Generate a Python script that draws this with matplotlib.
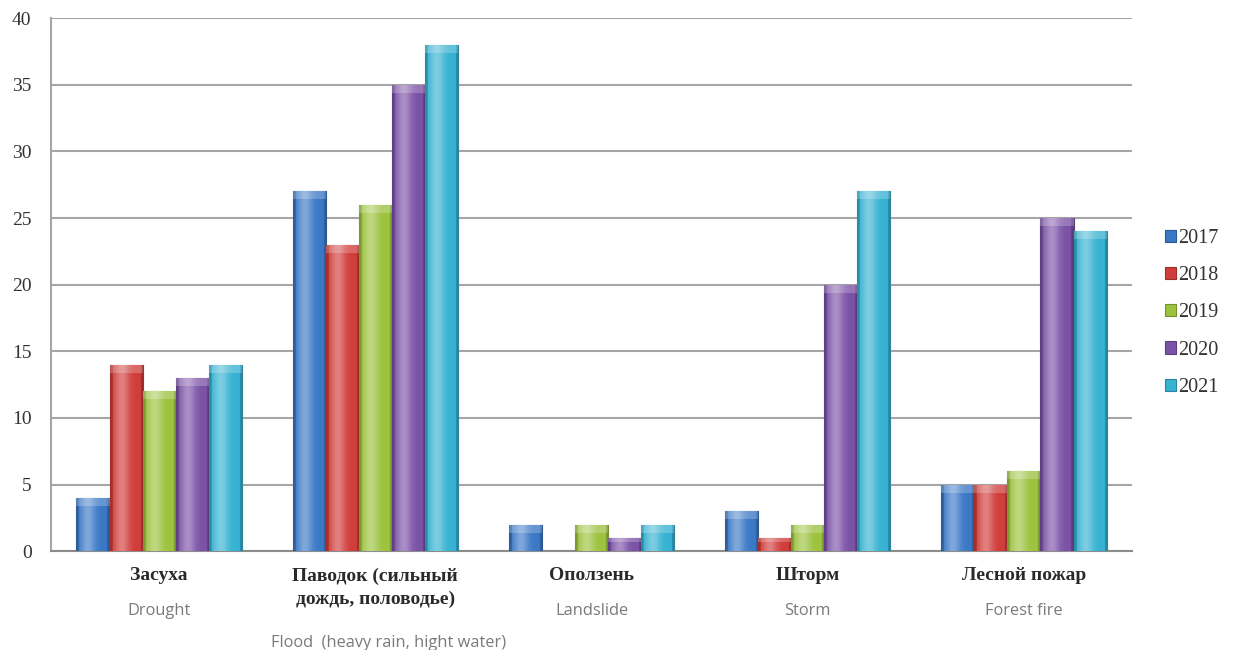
import numpy as np
import matplotlib.pyplot as plt
from matplotlib.colors import to_rgb

# hazard events per year
years = ['2017', '2018', '2019', '2020', '2021']
categories_ru = ['Засуха', 'Паводок (сильный\nдождь, половодье)', 'Оползень', 'Шторм', 'Лесной пожар']
categories_en = ['Drought', 'Flood  (heavy rain, hight water)', 'Landslide', 'Storm', 'Forest fire']

v2017 = [4, 27, 2, 3, 5]
v2018 = [14, 23, 0, 1, 5]
v2019 = [12, 26, 2, 2, 6]
v2020 = [13, 35, 1, 20, 25]
v2021 = [14, 38, 2, 27, 24]
series = [v2017, v2018, v2019, v2020, v2021]

colors = ['#3a78c6', '#d03d3a', '#9cc23e', '#7b52a6', '#36b2d2']

fig = plt.figure(figsize=(12.33, 6.5), dpi=100)
ax = fig.add_axes([0.0414, 0.152, 0.8767, 0.82])

x = np.arange(len(categories_en))
bw = 0.153


def shade(bar, base):
    # horizontal highlight + darker rim, like a bevelled bar
    x0, y0 = bar.get_x(), bar.get_y()
    w, h = bar.get_width(), bar.get_height()
    if h <= 0:
        return
    t = np.linspace(0, 1, 60)
    prof = 0.35 * np.exp(-((t - 0.35) / 0.22) ** 2) - 0.25 * (np.abs(t - 0.5) > 0.42)
    rgb = np.array(to_rgb(base))
    img = np.zeros((1, len(t), 3))
    for i, p in enumerate(prof):
        if p >= 0:
            img[0, i] = rgb + (1 - rgb) * p
        else:
            img[0, i] = rgb * (1 + p)
    im = ax.imshow(img, extent=[x0, x0 + w, y0, y0 + h], aspect='auto',
                   interpolation='bilinear', zorder=3)
    im.set_clip_path(bar)
    # top cap
    cap = min(0.6, h * 0.3)
    ax.fill_between([x0, x0 + w], y0 + h - cap, y0 + h, color='white', alpha=0.22,
                    lw=0, zorder=4, clip_path=bar)


for i, (vals, c, yr) in enumerate(zip(series, colors, years)):
    bars = ax.bar(x + (i - 2) * bw, vals, bw, color=c, label=yr, zorder=2,
                  edgecolor=tuple(np.array(to_rgb(c)) * 0.75), linewidth=0.8)
    for b in bars:
        shade(b, c)

ax.set_xlim(-0.5, 4.5)
ax.set_ylim(0, 40)
ax.set_yticks(range(0, 41, 5))
ax.yaxis.grid(True, color='#a6a6a6', lw=1.5, zorder=0)
ax.set_axisbelow(True)
for s in ['top', 'right']:
    ax.spines[s].set_visible(False)
ax.spines['left'].set_color('#a6a6a6')
ax.spines['left'].set_linewidth(1.5)
ax.spines['bottom'].set_color('#8c8c8c')
ax.spines['bottom'].set_linewidth(1.5)
ax.tick_params(axis='y', length=0, pad=14, labelsize=14, labelcolor='#333333')
ax.tick_params(axis='x', length=0)
for lab in ax.get_yticklabels():
    lab.set_fontfamily('Liberation Serif')
ax.set_xticks([])

# category labels: russian (serif) and english (grey sans)
for i in range(len(x)):
    ax.text(x[i], -1.2, categories_ru[i], ha='center', va='top', fontsize=14,
            family='Liberation Serif', fontweight='bold', color='#2a2a2a',
            linespacing=1.45)
    two_lines = '\n' in categories_ru[i]
    y_en = -6.3 if two_lines else -3.9
    x_en = x[i] + (0.06 if two_lines else 0)
    ax.text(x_en, y_en, categories_en[i], ha='center', va='top', fontsize=11.8,
            family='Open Sans', color='#7a7a7a')

leg = ax.legend(loc='center left', bbox_to_anchor=(1.014, 0.447), frameon=False,
                prop={'family': 'Liberation Serif', 'size': 14.5},
                handlelength=0.55, handleheight=0.55, handletextpad=0.1,
                labelspacing=0.9)
for t in leg.get_texts():
    t.set_color('#333333')

fig.savefig('out.png', dpi=100)
